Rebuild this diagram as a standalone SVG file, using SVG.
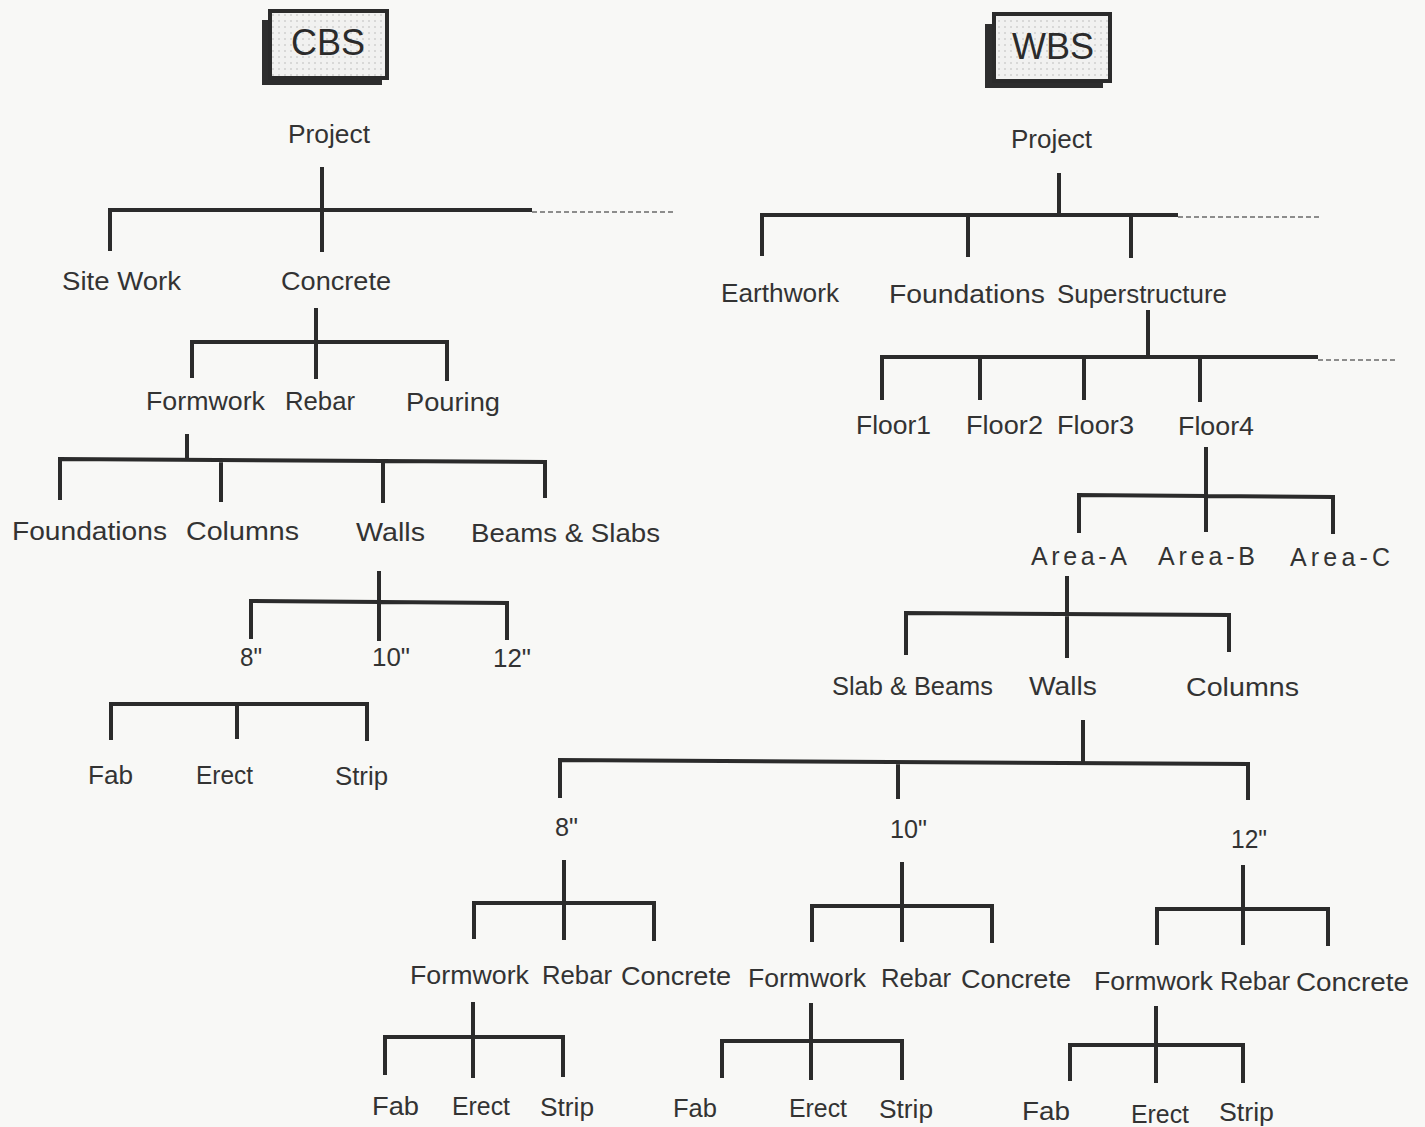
<svg xmlns="http://www.w3.org/2000/svg" width="1425" height="1127" viewBox="0 0 1425 1127">
  <defs>
    <pattern id="dots" width="6" height="6" patternUnits="userSpaceOnUse">
      <rect width="6" height="6" fill="#f1f1f0"/>
      <circle cx="3" cy="3" r="0.8" fill="#b8b8b8"/>
    </pattern>
  </defs>
  <style>
    .ln { stroke: #2b2b2b; stroke-width: 4; fill: none; stroke-linecap: butt; stroke-linejoin: miter; }
    .dash { stroke: #6a6a6a; stroke-width: 1.6; fill: none; stroke-dasharray: 5 3; }
    .t { font-family: "Liberation Sans", Arial, sans-serif; font-size: 25px; fill: #333; }
    .n { font-size: 26px; }
    .title { font-family: "Liberation Sans", Arial, sans-serif; font-size: 36px; fill: #2b2b2b; text-anchor: middle; }
    .shadow { fill: #2e2e2e; }
    .face { fill: url(#dots); stroke: #2b2b2b; stroke-width: 4; }
  </style>

  <rect width="1425" height="1127" fill="#f8f8f6"/>

  <!-- Title boxes -->
  <g id="cbs-title">
    <rect class="shadow" x="262" y="20" width="120" height="65"/>
    <rect class="face" x="270" y="11" width="117" height="67"/>
    <text class="title" x="328" y="55">CBS</text>
  </g>
  <g id="wbs-title">
    <rect class="shadow" x="985" y="24" width="118" height="64"/>
    <rect class="face" x="994" y="14" width="116" height="67"/>
    <text class="title" x="1053" y="59">WBS</text>
  </g>

  <!-- Tree connectors -->
  <g id="connectors">
    <!-- CBS: Project -->
    <path class="ln" d="M322 167V252 M110 251V210H532"/>
    <path class="dash" d="M532 212H675"/>
    <!-- CBS: Concrete -->
    <path class="ln" d="M316 308V379 M192 378V342H447V381"/>
    <!-- CBS: Formwork -->
    <path class="ln" d="M187 434V460 M60 500V459L545 462V498 M221 461V502 M383 461V503"/>
    <!-- CBS: Walls -->
    <path class="ln" d="M379 571V641 M251 639V601L507 603V640"/>
    <!-- CBS: Fab / Erect / Strip -->
    <path class="ln" d="M111 740V704H367V741 M237 704V739"/>

    <!-- WBS: Project -->
    <path class="ln" d="M1059 173V215 M762 256V215H1178 M968 216V257 M1131 216V258"/>
    <path class="dash" d="M1178 217H1320"/>
    <!-- WBS: Superstructure -->
    <path class="ln" d="M1148 310V357 M882 400V357H1318 M980 358V400 M1084 358V400 M1200 359V402"/>
    <path class="dash" d="M1318 360H1395"/>
    <!-- WBS: Floor4 -->
    <path class="ln" d="M1206 447V532 M1079 533V495L1333 497V534"/>
    <!-- WBS: Area-A -->
    <path class="ln" d="M1067 576V658 M906 655V613L1229 615V652"/>
    <!-- WBS: Walls -->
    <path class="ln" d="M1083 720V764 M560 798V760L1248 764V800 M898 761V799"/>
    <!-- WBS: 8", 10", 12" -->
    <path class="ln" d="M564 860V940 M474 939V903H654V941"/>
    <path class="ln" d="M902 862V942 M812 942V906H992V943"/>
    <path class="ln" d="M1243 865V945 M1157 945V909H1328V946"/>
    <!-- WBS: Formwork breakdowns -->
    <path class="ln" d="M473 1002V1078 M385 1075V1037H563V1077"/>
    <path class="ln" d="M811 1003V1080 M722 1078V1041H902V1080"/>
    <path class="ln" d="M1156 1006V1083 M1070 1081V1045H1243V1083"/>
  </g>

  <!-- CBS nodes -->
  <g id="cbs-project"><text class="t" x="288" y="143" textLength="82" lengthAdjust="spacingAndGlyphs">Project</text></g>
  <g id="cbs-site-work"><text class="t" x="62" y="290" textLength="119" lengthAdjust="spacingAndGlyphs">Site Work</text></g>
  <g id="cbs-concrete"><text class="t" x="281" y="290" textLength="110" lengthAdjust="spacingAndGlyphs">Concrete</text></g>
  <g id="cbs-formwork"><text class="t" x="146" y="410" textLength="119" lengthAdjust="spacingAndGlyphs">Formwork</text></g>
  <g id="cbs-rebar"><text class="t" x="285" y="410" textLength="70" lengthAdjust="spacingAndGlyphs">Rebar</text></g>
  <g id="cbs-pouring"><text class="t" x="406" y="411" textLength="94" lengthAdjust="spacingAndGlyphs">Pouring</text></g>
  <g id="cbs-foundations"><text class="t" x="12" y="540" textLength="155" lengthAdjust="spacingAndGlyphs">Foundations</text></g>
  <g id="cbs-columns"><text class="t" x="186" y="540" textLength="113" lengthAdjust="spacingAndGlyphs">Columns</text></g>
  <g id="cbs-walls"><text class="t" x="356" y="541" textLength="69" lengthAdjust="spacingAndGlyphs">Walls</text></g>
  <g id="cbs-beams-slabs"><text class="t" x="471" y="542" textLength="189" lengthAdjust="spacingAndGlyphs">Beams &amp; Slabs</text></g>
  <g id="cbs-8in"><text class="t" x="240" y="666" textLength="22" lengthAdjust="spacingAndGlyphs">8"</text></g>
  <g id="cbs-10in"><text class="t" x="372" y="666" textLength="38" lengthAdjust="spacingAndGlyphs">10"</text></g>
  <g id="cbs-12in"><text class="t" x="493" y="667" textLength="38" lengthAdjust="spacingAndGlyphs">12"</text></g>
  <g id="cbs-fab"><text class="t" x="88" y="784" textLength="45" lengthAdjust="spacingAndGlyphs">Fab</text></g>
  <g id="cbs-erect"><text class="t" x="196" y="784" textLength="57" lengthAdjust="spacingAndGlyphs">Erect</text></g>
  <g id="cbs-strip"><text class="t" x="335" y="785" textLength="53" lengthAdjust="spacingAndGlyphs">Strip</text></g>

  <!-- WBS nodes -->
  <g id="wbs-project"><text class="t" x="1011" y="148" textLength="81" lengthAdjust="spacingAndGlyphs">Project</text></g>
  <g id="wbs-earthwork"><text class="t" x="721" y="302" textLength="118" lengthAdjust="spacingAndGlyphs">Earthwork</text></g>
  <g id="wbs-foundations"><text class="t" x="889" y="303" textLength="156" lengthAdjust="spacingAndGlyphs">Foundations</text></g>
  <g id="wbs-superstructure"><text class="t" x="1057" y="303" textLength="170" lengthAdjust="spacingAndGlyphs">Superstructure</text></g>
  <g id="wbs-floor1"><text class="t" x="856" y="434" textLength="75" lengthAdjust="spacingAndGlyphs">Floor1</text></g>
  <g id="wbs-floor2"><text class="t" x="966" y="434" textLength="77" lengthAdjust="spacingAndGlyphs">Floor2</text></g>
  <g id="wbs-floor3"><text class="t" x="1057" y="434" textLength="77" lengthAdjust="spacingAndGlyphs">Floor3</text></g>
  <g id="wbs-floor4"><text class="t" x="1178" y="435" textLength="76" lengthAdjust="spacingAndGlyphs">Floor4</text></g>
  <g id="wbs-area-a"><text class="t" x="1031" y="565" textLength="96" lengthAdjust="spacing">Area-A</text></g>
  <g id="wbs-area-b"><text class="t" x="1158" y="565" textLength="97" lengthAdjust="spacing">Area-B</text></g>
  <g id="wbs-area-c"><text class="t" x="1290" y="566" textLength="100" lengthAdjust="spacing">Area-C</text></g>
  <g id="wbs-slab-beams"><text class="t" x="832" y="695" textLength="161" lengthAdjust="spacingAndGlyphs">Slab &amp; Beams</text></g>
  <g id="wbs-walls"><text class="t" x="1029" y="695" textLength="68" lengthAdjust="spacingAndGlyphs">Walls</text></g>
  <g id="wbs-columns"><text class="t" x="1186" y="696" textLength="113" lengthAdjust="spacingAndGlyphs">Columns</text></g>
  <g id="wbs-8in"><text class="t" x="555" y="836" textLength="23" lengthAdjust="spacingAndGlyphs">8"</text></g>
  <g id="wbs-10in"><text class="t" x="890" y="838" textLength="37" lengthAdjust="spacingAndGlyphs">10"</text></g>
  <g id="wbs-12in"><text class="t" x="1231" y="848" textLength="36" lengthAdjust="spacingAndGlyphs">12"</text></g>

  <g id="wbs-8in-formwork"><text class="t n" x="410" y="984" textLength="119" lengthAdjust="spacingAndGlyphs">Formwork</text></g>
  <g id="wbs-8in-rebar"><text class="t n" x="542" y="984" textLength="70" lengthAdjust="spacingAndGlyphs">Rebar</text></g>
  <g id="wbs-8in-concrete"><text class="t n" x="621" y="985" textLength="110" lengthAdjust="spacingAndGlyphs">Concrete</text></g>
  <g id="wbs-10in-formwork"><text class="t n" x="748" y="987" textLength="118" lengthAdjust="spacingAndGlyphs">Formwork</text></g>
  <g id="wbs-10in-rebar"><text class="t n" x="881" y="987" textLength="70" lengthAdjust="spacingAndGlyphs">Rebar</text></g>
  <g id="wbs-10in-concrete"><text class="t n" x="961" y="988" textLength="110" lengthAdjust="spacingAndGlyphs">Concrete</text></g>
  <g id="wbs-12in-formwork"><text class="t n" x="1094" y="990" textLength="119" lengthAdjust="spacingAndGlyphs">Formwork</text></g>
  <g id="wbs-12in-rebar"><text class="t n" x="1220" y="990" textLength="70" lengthAdjust="spacingAndGlyphs">Rebar</text></g>
  <g id="wbs-12in-concrete"><text class="t n" x="1296" y="991" textLength="113" lengthAdjust="spacingAndGlyphs">Concrete</text></g>

  <g id="wbs-8in-fab"><text class="t n" x="372" y="1115" textLength="47" lengthAdjust="spacingAndGlyphs">Fab</text></g>
  <g id="wbs-8in-erect"><text class="t n" x="452" y="1115" textLength="58" lengthAdjust="spacingAndGlyphs">Erect</text></g>
  <g id="wbs-8in-strip"><text class="t n" x="540" y="1116" textLength="54" lengthAdjust="spacingAndGlyphs">Strip</text></g>
  <g id="wbs-10in-fab"><text class="t n" x="673" y="1117" textLength="44" lengthAdjust="spacingAndGlyphs">Fab</text></g>
  <g id="wbs-10in-erect"><text class="t n" x="789" y="1117" textLength="58" lengthAdjust="spacingAndGlyphs">Erect</text></g>
  <g id="wbs-10in-strip"><text class="t n" x="879" y="1118" textLength="54" lengthAdjust="spacingAndGlyphs">Strip</text></g>
  <g id="wbs-12in-fab"><text class="t n" x="1022" y="1120" textLength="48" lengthAdjust="spacingAndGlyphs">Fab</text></g>
  <g id="wbs-12in-erect"><text class="t n" x="1131" y="1123" textLength="58" lengthAdjust="spacingAndGlyphs">Erect</text></g>
  <g id="wbs-12in-strip"><text class="t n" x="1219" y="1121" textLength="55" lengthAdjust="spacingAndGlyphs">Strip</text></g>
</svg>
